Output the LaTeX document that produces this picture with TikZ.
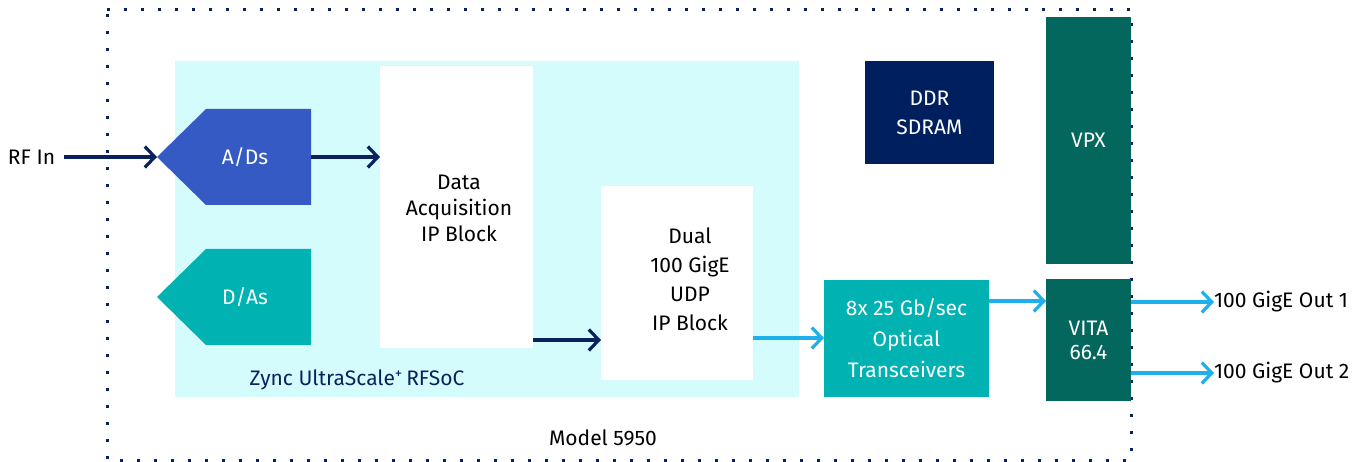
\documentclass[tikz,border=0pt]{standalone}
\usepackage{fontspec}
\setmainfont{Fira Sans}
\usetikzlibrary{arrows.meta}
\definecolor{navy}{HTML}{0B215E}
\definecolor{adblue}{HTML}{355AC4}
\definecolor{teal1}{HTML}{00B2B2}
\definecolor{cyanbg}{HTML}{D4FCFC}
\definecolor{vpxg}{HTML}{03675E}
\definecolor{ddrb}{HTML}{001F5F}
\definecolor{lblue}{HTML}{1EB0EC}
\begin{document}
\begin{tikzpicture}[x=1pt,y=-1pt,
  lbl/.style={font=\fontsize{21}{29}\selectfont, align=center},
  wbox/.style={fill=white, draw=none},
  darr/.style={draw=navy, line width=3.2pt, -{Straight Barb[length=10pt,width=21pt,line width=3.2pt]}},
  larr/.style={draw=lblue, line width=3.2pt, -{Straight Barb[length=10pt,width=21pt,line width=3.2pt]}},
  blk/.style={inner sep=0pt, outer sep=0pt}]
\useasboundingbox (0,0) rectangle (1366,462);
% dotted border
\draw[navy, line width=3pt, dash pattern=on 2.6pt off 14.4pt] (107,10) -- (1131,10) -- (1131,460) -- (107,460) -- cycle;
% cyan RFSoC region
\fill[cyanbg] (175,61) rectangle (799,397);
\node[blk, text=navy, font=\fontsize{21}{25}\selectfont] (zync) at (357,380) {Zync UltraScale\textsuperscript{+}\,RFSoC};
% A/Ds
\fill[adblue] (157,157) -- (206,109) -- (311,109) -- (311,205) -- (206,205) -- cycle;
\node[lbl, text=white] (ads) at (245,157) {A/Ds};
\coordinate (adsR) at (311,157);
\coordinate (adsL) at (157,157);
% D/As
\fill[teal1] (157,297) -- (206,249) -- (311,249) -- (311,345) -- (206,345) -- cycle;
\node[lbl, text=white] (das) at (245,297) {D/As};
% Data acquisition
\node[wbox, blk, minimum width=153pt, minimum height=282pt] (daq) at (456.5,207) {};
\node[lbl, text=black, font=\fontsize{21}{26}\selectfont] at (459,208) {Data\\Acquisition\\IP Block};
% Dual
\node[wbox, blk, minimum width=152pt, minimum height=194pt] (dual) at (677,283) {};
\node[lbl, text=black] at (690,279) {Dual\\100 GigE\\UDP\\IP Block};
% DDR
\node[blk, fill=ddrb, minimum width=129pt, minimum height=103pt, lbl, text=white] (ddr) at (929.5,112.5) {DDR\\SDRAM};
% VPX
\node[blk, fill=vpxg, minimum width=85pt, minimum height=247pt, lbl, text=white] (vpx) at (1088.5,140.5) {VPX};
% VITA
\node[blk, fill=vpxg, minimum width=85pt, minimum height=122pt, lbl, text=white, font=\fontsize{21}{24}\selectfont] (vita) at (1088.5,340) {VITA\\66.4};
% Optical
\node[blk, fill=teal1, minimum width=165pt, minimum height=117pt, lbl, text=white, font=\fontsize{21}{31}\selectfont] (opt) at (906.5,338.5) {8x 25 Gb/sec\\Optical\\Transceivers};
% labels
\node[lbl, anchor=west, blk] (rfin) at (8,157) {RF In};
\node[lbl, anchor=west, blk] (out1) at (1214,302) {100 GigE Out 1};
\node[lbl, anchor=west, blk] (out2) at (1214,373) {100 GigE Out 2};
\node[lbl, blk] (model) at (603,438) {Model 5950};
% arrows
\draw[darr] (rfin.east) ++(9,0) -- (adsL);
\draw[darr] (adsR) -- (daq.west |- adsR);
\draw[darr] (daq.east |- 0,340) -- (dual.west |- 0,340);
\draw[larr] (dual.east |- 0,338) -- (opt.west |- 0,338);
\draw[larr] (opt.east |- 0,301) -- (vita.west |- 0,301);
\draw[larr] (vita.east |- out1.west) -- (out1.west);
\draw[larr] (vita.east |- out2.west) -- (out2.west);
\end{tikzpicture}
\end{document}
